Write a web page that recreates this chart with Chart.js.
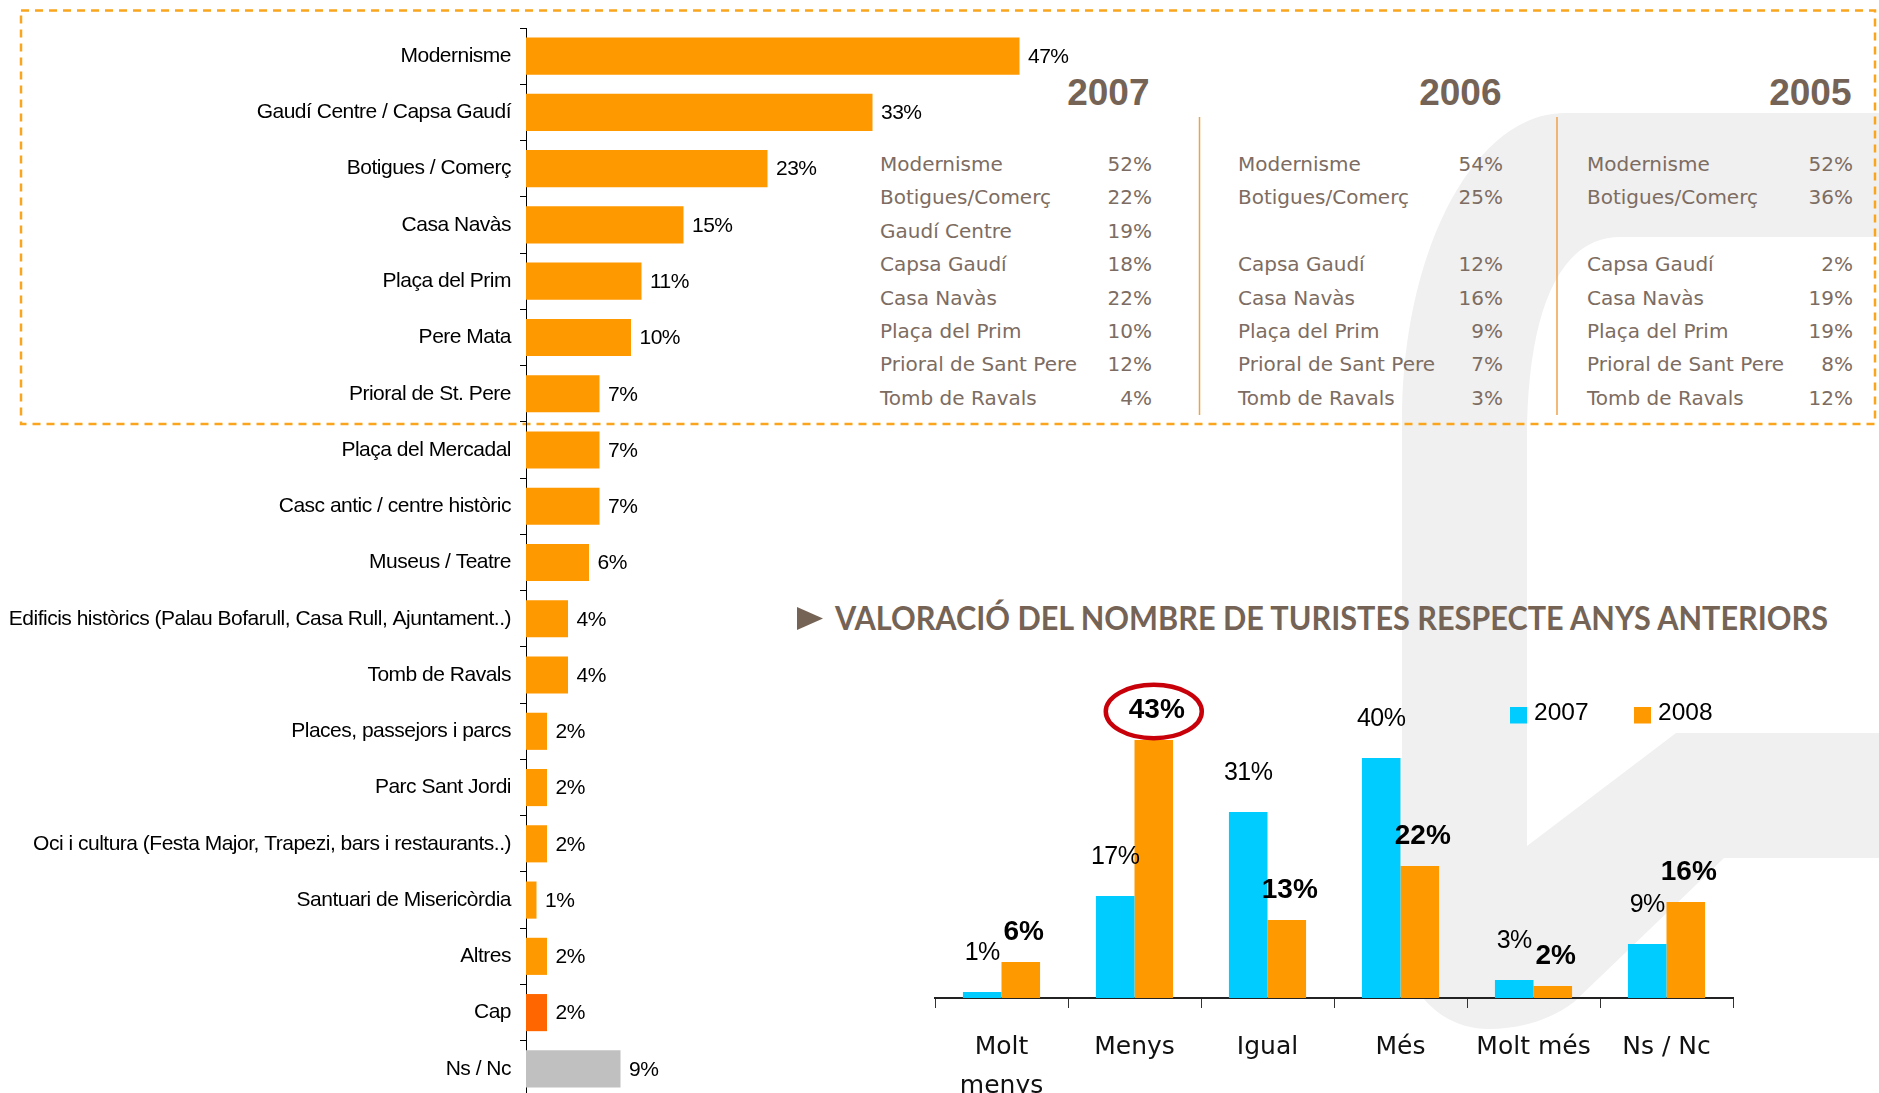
<!DOCTYPE html>
<html><head><meta charset="utf-8">
<script src="https://cdn.jsdelivr.net/npm/chart.js@4.4.1/dist/chart.umd.min.js"></script>
<style>
html,body{margin:0;padding:0;width:1879px;height:1093px;overflow:hidden;background:#fff;}
#bg{position:absolute;left:0;top:0;}
#c1{position:absolute;left:0;top:0;}
#c2{position:absolute;left:760px;top:560px;}
</style></head><body>
<svg id="bg" width="1879" height="1093" xmlns="http://www.w3.org/2000/svg">
 <path fill="#F0F0F0" d="M1879 113 L1565 113 C1475 113 1402 250 1402 420 L1402 934 C1402 990 1440 1029 1489 1029 C1520 1029 1550 1020 1574 1002 L1724 858 L1879 858 L1879 733 L1676 733 L1527 846 L1527 440 C1527 310 1560 237 1620 237 L1879 237 Z"/>
 <rect x="21" y="10.5" width="1854" height="413.5" fill="none" stroke="#F9A51E" stroke-width="2.5" stroke-dasharray="8 6"/>
 <line x1="1199.5" y1="117" x2="1199.5" y2="415" stroke="#EFA24A" stroke-width="1.5"/>
 <line x1="1557" y1="117" x2="1557" y2="415" stroke="#EFA24A" stroke-width="1.5"/>
 <polygon points="797,607 823,618.5 797,630" fill="#756356"/>
 <g id="tableText"></g>
 <text id="title" x="835" y="630" textLength="993" lengthAdjust="spacingAndGlyphs" font-family="Lato" font-weight="bold" font-size="32" fill="#756356"></text>
</svg>
<canvas id="c1" width="1100" height="1120"></canvas>
<canvas id="c2" width="1119" height="560"></canvas>
<script>
// ---------- data: left chart (attractions) ----------
const attractionLabels = ["Modernisme","Gaudí Centre / Capsa Gaudí","Botigues / Comerç","Casa Navàs","Plaça del Prim","Pere Mata","Prioral de St. Pere","Plaça del Mercadal","Casc antic / centre històric","Museus / Teatre","Edificis històrics (Palau Bofarull, Casa Rull, Ajuntament..)","Tomb de Ravals","Places, passejors i parcs","Parc Sant Jordi","Oci i cultura (Festa Major, Trapezi, bars i restaurants..)","Santuari de Misericòrdia","Altres","Cap","Ns / Nc"];
const attractionValues = [47,33,23,15,11,10,7,7,7,6,4,4,2,2,2,1,2,2,9];

// ---------- data: previous years table ----------
const tableYears = ["2007","2006","2005"];
const tableNames = ["Modernisme","Botigues/Comerç","Gaudí Centre","Capsa Gaudí","Casa Navàs","Plaça del Prim","Prioral de Sant Pere","Tomb de Ravals"];
const table2007 = [52,22,19,18,22,10,12,4];
const table2006 = [54,25,null,12,16,9,7,3];
const table2005 = [52,36,null,2,19,19,8,12];

// ---------- data: right chart (rating) ----------
const ratingTitle = "VALORACIÓ DEL NOMBRE DE TURISTES RESPECTE ANYS ANTERIORS";
const ratingLabels = [["Molt","menys"],"Menys","Igual","Més","Molt més","Ns / Nc"];
const seriesNames = ["2007","2008"];
const values2007 = [1,17,31,40,3,9];
const values2008 = [6,43,13,22,2,16];

// ---------- static text (table + title) ----------
const NS = "http://www.w3.org/2000/svg";
const g = document.getElementById('tableText');
function addText(str, x, y, opts){
  const t = document.createElementNS(NS,'text');
  t.setAttribute('x',x); t.setAttribute('y',y);
  t.setAttribute('font-family', opts.family||'DejaVu Sans');
  t.setAttribute('font-size', opts.size||20);
  if(opts.weight) t.setAttribute('font-weight',opts.weight);
  if(opts.anchor) t.setAttribute('text-anchor',opts.anchor);
  t.setAttribute('fill', opts.fill||'#7D6C61');
  t.textContent = str; g.appendChild(t);
}
const colName = [880,1238,1587];
const colPct = [1152,1503,1853];
const headerRight = [1149.5,1501.5,1851.5];
const tableCols = [table2007,table2006,table2005];
tableYears.forEach((yr,c)=>{
  addText(yr, headerRight[c], 105, {family:'Liberation Sans', weight:'bold', size:37, anchor:'end', fill:'#756356'});
  tableCols[c].forEach((v,r)=>{
    if(v===null) return;
    const y = 171 + 33.4*r;
    addText(tableNames[r], colName[c], y, {});
    addText(v+'%', colPct[c], y, {anchor:'end'});
  });
});
document.getElementById('title').textContent = ratingTitle;

// ---------- left chart ----------
const attractionColors = attractionLabels.map(l => l==='Cap' ? '#FF6600' : (l==='Ns / Nc' ? '#C0C0C0' : '#FF9900'));
const tightText = { id:'tightText', beforeDraw(chart){ chart.ctx.letterSpacing='-0.5px'; } };
const barValueLabels = {
  id:'barValueLabels',
  afterDatasetsDraw(chart){
    const ctx = chart.ctx, meta = chart.getDatasetMeta(0);
    ctx.save();
    ctx.font = '21px "Liberation Sans"'; ctx.fillStyle = '#000';
    ctx.textAlign = 'left'; ctx.textBaseline = 'middle';
    meta.data.forEach((el,i)=>{ ctx.fillText(chart.data.datasets[0].data[i]+'%', el.x+8.5, el.y+1); });
    ctx.restore();
  }
};
new Chart(document.getElementById('c1'), {
  type:'bar',
  data:{ labels: attractionLabels, datasets:[{ data: attractionValues, backgroundColor: attractionColors, barPercentage:0.66, categoryPercentage:1 }] },
  options:{
    indexAxis:'y', responsive:false, animation:false, devicePixelRatio:1,
    layout:{ padding:{ top:28, bottom:23, left:0, right:0 } },
    plugins:{ legend:{display:false}, tooltip:{enabled:false} },
    scales:{
      x:{ display:false, min:0, max:(1100-526)/10.5 },
      y:{
        afterFit(s){ s.width = 526; },
        border:{ display:true, color:'#000', width:1 },
        grid:{ display:true, drawOnChartArea:false, drawTicks:true, tickLength:6, color:'#000', offset:true },
        ticks:{ color:'#000', font:{ family:'Liberation Sans', size:21 }, padding:9, autoSkip:false }
      }
    }
  },
  plugins:[tightText, barValueLabels]
});

// ---------- right chart ----------
const highlightIndex = values2008.indexOf(Math.max(...values2008));
const ratingDecor = {
  id:'ratingDecor',
  afterDatasetsDraw(chart){
    const ctx = chart.ctx;
    chart.data.datasets.forEach((ds,di)=>{
      chart.getDatasetMeta(di).data.forEach((el,i)=>{
        ctx.save();
        ctx.fillStyle = '#000'; ctx.textAlign='center'; ctx.textBaseline='middle';
        if(di===0){ ctx.font='25px "Liberation Sans"'; ctx.letterSpacing='-0.5px'; ctx.fillText(ds.data[i]+'%', el.x, el.y-39); }
        else { ctx.font='bold 28px "Liberation Sans"'; ctx.fillText(ds.data[i]+'%', el.x+3, el.y-30); }
        ctx.restore();
      });
    });
    const hl = chart.getDatasetMeta(1).data[highlightIndex];
    ctx.save();
    ctx.beginPath(); ctx.ellipse(hl.x, hl.y-28.5, 48, 26.7, 0, 0, Math.PI*2);
    ctx.strokeStyle='#C8000A'; ctx.lineWidth=4.5; ctx.stroke();
    ctx.restore();
  },
  afterDraw(chart){
    const ctx = chart.ctx;
    const boxX = [750, 874], textX = [774, 898];
    ctx.save();
    ctx.font = '24.5px "Liberation Sans"'; ctx.textAlign='left'; ctx.textBaseline='middle';
    chart.data.datasets.forEach((ds,i)=>{
      ctx.fillStyle = ds.backgroundColor; ctx.fillRect(boxX[i], 147, 17, 16.5);
      ctx.fillStyle = '#000'; ctx.fillText(ds.label, textX[i], 153);
    });
    ctx.restore();
  }
};
new Chart(document.getElementById('c2'), {
  type:'bar',
  data:{ labels: ratingLabels, datasets:[
    { label: seriesNames[0], data: values2007, backgroundColor:'#00CCFF' },
    { label: seriesNames[1], data: values2008, backgroundColor:'#FF9900' }
  ]},
  options:{
    responsive:false, animation:false, devicePixelRatio:1,
    datasets:{ bar:{ categoryPercentage:0.58, barPercentage:1 } },
    layout:{ padding:{ left:175, right:146, top:78, bottom:0 } },
    plugins:{ legend:{display:false}, tooltip:{enabled:false} },
    scales:{
      x:{
        afterFit(s){ s.height = 122; },
        border:{ display:true, color:'#222', width:2 },
        grid:{ display:true, drawOnChartArea:false, drawTicks:true, tickLength:10, color:'#333', offset:true },
        ticks:{ color:'#111', font:{ family:'DejaVu Sans', size:25, lineHeight:1.56 }, padding:20, maxRotation:0, autoSkip:false }
      },
      y:{ display:false, min:0, max:60 }
    }
  },
  plugins:[ratingDecor]
});
</script>
</body></html>
